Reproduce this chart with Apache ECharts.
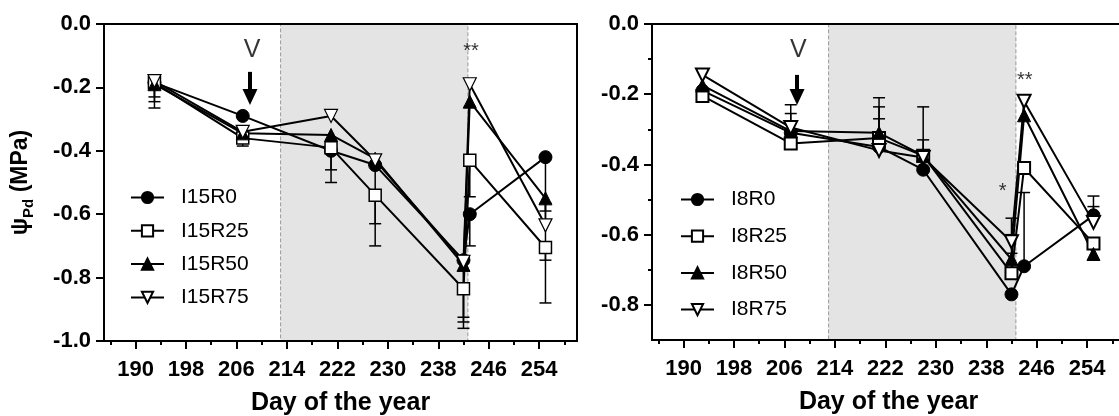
<!DOCTYPE html>
<html>
<head>
<meta charset="utf-8">
<script src="https://cdn.jsdelivr.net/npm/echarts@6/dist/echarts.min.js"></script>
<style>html,body{margin:0;padding:0;background:#fff}#c{width:1119px;height:416px}</style>
</head>
<body>
<div id="c"></div>
<script>
// ---- data ----
const daysLeft  = [193, 207, 221, 228, 242, 243, 255];
const daysRight = [193, 207, 221, 228, 242, 244, 255];

const namesLeft  = ['I15R0', 'I15R25', 'I15R50', 'I15R75'];
const namesRight = ['I8R0', 'I8R25', 'I8R50', 'I8R75'];

const I15R0  = [-0.185, -0.29,  -0.40,  -0.445, -0.745, -0.60,  -0.42];
const I15R25 = [-0.185, -0.36,  -0.39,  -0.54,  -0.835, -0.43,  -0.705];
const I15R50 = [-0.19,  -0.345, -0.35,  -0.425, -0.76,  -0.245, -0.55];
const I15R75 = [-0.18,  -0.34,  -0.29,  -0.43,  -0.75,  -0.19,  -0.635];

const I8R0  = [-0.19,  -0.31,  -0.35,  -0.415, -0.77, -0.69, -0.545];
const I8R25 = [-0.205, -0.34,  -0.325, -0.375, -0.71, -0.41, -0.625];
const I8R50 = [-0.175, -0.305, -0.31,  -0.375, -0.67, -0.26, -0.655];
const I8R75 = [-0.145, -0.295, -0.36,  -0.38,  -0.62, -0.22, -0.565];

// error bar end (cap) values, null = no visible bar
const errI15R0  = [-0.265, null,   -0.50, -0.63, -0.94,  -0.70,  -0.88];
const errI15R25 = [-0.245, -0.385, -0.46, -0.70, -0.96,  -0.545, -0.745];
const errI15R50 = [-0.23,  null,   null,  null,  -0.925, -0.26,  -0.59];
const errI15R75 = [null,   null,   null,  null,  null,   null,   -0.565];

const errI8R0  = [null, -0.23,  -0.21,  -0.33,  null,   -0.48, -0.49];
const errI8R25 = [null, null,   -0.236, -0.236, -0.653, null,  null];
const errI8R50 = [null, -0.255, -0.27,  null,   -0.60,  null,  null];
const errI8R75 = [null, null,   null,   null,   -0.553, null,  -0.52];

// shaded period (days)
const shadeStart = 213, shadeEnd = 242.7;

// axis ticks
const xMajor = [190, 198, 206, 214, 222, 230, 238, 246, 254];
const xMinor = [186, 194, 202, 210, 218, 226, 234, 242, 250, 258];
const yRightMajor = [0, -0.2, -0.4, -0.6, -0.8];
const yRightMinor = [-0.1, -0.3, -0.5, -0.7];

// annotations
const notesLeft  = [[208.5, -0.082, 'V'], [243.2, -0.07, '**']];
const notesRight = [[208.2, -0.074, 'V'], [244.1, -0.148, '**'], [240.6, -0.462, '*']];
const arrowLeft  = [208.15, -0.151, -0.230];
const arrowRight = [208.0, -0.145, -0.208];

// ---- chart ----
const FONT = 'Liberation Sans, Arial, sans-serif';
const downTri = 'path://M0,0 L10,0 L5,9 Z';

function xAxes(grid) {
  return [
    {
      gridIndex: grid, type: 'value', min: 185, max: 260, position: 'bottom', z: 5,
      axisLine: { show: true, onZero: false, lineStyle: { color: '#000', width: 2 } },
      axisTick: { show: true, customValues: xMajor, length: 8, lineStyle: { color: '#000', width: 2 } },
      axisLabel: { show: true, customValues: xMajor, margin: 18, color: '#000', fontSize: 22, fontWeight: 'bold', fontFamily: FONT },
      splitLine: { show: false },
      name: 'Day of the year', nameLocation: 'middle', nameGap: 50,
      nameTextStyle: { color: '#000', fontSize: 25, fontWeight: 'bold', fontFamily: FONT }
    },
    {
      gridIndex: grid, type: 'value', min: 185, max: 260, position: 'bottom', z: 5,
      axisLine: { show: false, onZero: false },
      axisTick: { show: true, customValues: xMinor, length: 4, lineStyle: { color: '#000', width: 2 } },
      axisLabel: { show: false }, splitLine: { show: false }
    }
  ];
}

function lineSeries(name, days, vals, symbol, open, xi, yi, size, bw) {
  return {
    name, type: 'line', xAxisIndex: xi, yAxisIndex: yi, z: 3,
    data: days.map((d, i) => [d, vals[i]]),
    symbol, symbolSize: size, showSymbol: true,
    lineStyle: { color: '#000', width: 2 },
    itemStyle: { color: open ? '#fff' : '#000', borderColor: '#000', borderWidth: bw },
    emphasis: { disabled: true }, animation: false
  };
}

function errSeries(days, vals, caps, xi, yi) {
  const data = [];
  days.forEach((d, i) => { if (caps[i] !== null) data.push([d, vals[i], caps[i]]); });
  return {
    type: 'custom', xAxisIndex: xi, yAxisIndex: yi, z: 2, silent: true, animation: false,
    encode: { x: 0, y: [1, 2] },
    data,
    renderItem: function (params, api) {
      const p0 = api.coord([api.value(0), api.value(1)]);
      const p1 = api.coord([api.value(0), api.value(2)]);
      const st = { stroke: '#000', lineWidth: 1.5 };
      return {
        type: 'group', children: [
          { type: 'line', shape: { x1: p0[0], y1: p0[1], x2: p1[0], y2: p1[1] }, style: st },
          { type: 'line', shape: { x1: p1[0] - 6, y1: p1[1], x2: p1[0] + 6, y2: p1[1] }, style: st }
        ]
      };
    }
  };
}

function noteSeries(notes, arrow, xi, yi) {
  return {
    type: 'scatter', xAxisIndex: xi, yAxisIndex: yi, z: 6, silent: true, animation: false,
    symbolSize: 0,
    data: notes.map(d => ({
      value: d,
      label: { fontSize: d[2] === 'V' ? 25 : 20, offset: d[2] === 'V' ? [0, 0] : [0, 5] }
    })),
    label: {
      show: true, position: 'inside', color: '#000', fontFamily: FONT,
      formatter: p => p.value[2]
    },
    markLine: {
      silent: true, animation: false,
      symbol: ['none', 'triangle'], symbolSize: [15, 16],
      lineStyle: { color: '#000', width: 4, type: 'solid' },
      itemStyle: { color: '#000' },
      label: { show: false },
      data: [[{ coord: [arrow[0], arrow[1]] }, { coord: [arrow[0], arrow[2]] }]]
    }
  };
}

function shadeSeries(xi, yi) {
  return {
    type: 'line', xAxisIndex: xi, yAxisIndex: yi, z: 1, data: [], silent: true,
    markArea: {
      silent: true,
      itemStyle: { color: '#e4e4e4', borderColor: '#9a9a9a', borderWidth: 1, borderType: 'dashed' },
      data: [[{ xAxis: shadeStart }, { xAxis: shadeEnd }]]
    }
  };
}

const legendBase = {
  orient: 'vertical', padding: 0, itemWidth: 33, itemHeight: 14,
  textStyle: { color: '#000', fontSize: 21, fontFamily: FONT, padding: [0, 0, 0, 12] },
  selectedMode: false
};

const chart = echarts.init(document.getElementById('c'), null, { renderer: 'canvas' });
const option = {
  animation: false,
  backgroundColor: '#fff',
  grid: [
    { left: 104, top: 24, width: 473, height: 317, show: true, borderColor: '#000', borderWidth: 2, backgroundColor: 'transparent', outerBoundsMode: 'none', containLabel: false, z: 4 },
    { left: 652, top: 24, width: 473, height: 316, show: true, borderColor: '#000', borderWidth: 2, backgroundColor: 'transparent', outerBoundsMode: 'none', containLabel: false, z: 4 }
  ],
  xAxis: [...xAxes(0), ...xAxes(1)],
  yAxis: [
    {
      gridIndex: 0, type: 'value', min: -1, max: 0, interval: 0.2, position: 'left', z: 5,
      axisLine: { show: true, onZero: false, lineStyle: { color: '#000', width: 2 } },
      axisTick: { show: true, length: 8, lineStyle: { color: '#000', width: 2 } },
      axisLabel: { margin: 13, color: '#000', fontSize: 22, fontWeight: 'bold', fontFamily: FONT, formatter: v => v.toFixed(1) },
      splitLine: { show: false },
      name: '{a|ψ}{s|Pd}{a| (MPa)}', nameLocation: 'middle', nameGap: 68, nameRotate: 90,
      nameTextStyle: {
        color: '#000', fontFamily: FONT, fontWeight: 'bold',
        rich: {
          a: { fontSize: 23, fontWeight: 'bold', fontFamily: FONT, color: '#000', lineHeight: 30, verticalAlign: 'middle' },
          s: { fontSize: 15, fontWeight: 'bold', fontFamily: FONT, color: '#000', lineHeight: 30, verticalAlign: 'bottom', padding: [10, 0, 0, 0] }
        }
      }
    },
    {
      gridIndex: 1, type: 'value', min: -0.9, max: 0, position: 'left', z: 5,
      axisLine: { show: true, onZero: false, lineStyle: { color: '#000', width: 2 } },
      axisTick: { show: true, customValues: yRightMajor, length: 8, lineStyle: { color: '#000', width: 2 } },
      axisLabel: { customValues: yRightMajor, margin: 13, color: '#000', fontSize: 22, fontWeight: 'bold', fontFamily: FONT, formatter: v => v.toFixed(1) },
      splitLine: { show: false }
    },
    {
      gridIndex: 1, type: 'value', min: -0.9, max: 0, position: 'left', z: 5,
      axisLine: { show: false, onZero: false },
      axisTick: { show: true, customValues: yRightMinor, length: 4, lineStyle: { color: '#000', width: 2 } },
      axisLabel: { show: false }, splitLine: { show: false }
    }
  ],
  legend: [
    Object.assign({}, legendBase, { data: namesLeft, left: 130, top: 187, itemGap: 12.3 }),
    Object.assign({}, legendBase, { data: namesRight, left: 680, top: 189, itemGap: 15.7 })
  ],
  series: [
    shadeSeries(0, 0),
    shadeSeries(2, 1),
    errSeries(daysLeft, I15R0, errI15R0, 0, 0),
    errSeries(daysLeft, I15R25, errI15R25, 0, 0),
    errSeries(daysLeft, I15R50, errI15R50, 0, 0),
    errSeries(daysLeft, I15R75, errI15R75, 0, 0),
    errSeries(daysRight, I8R0, errI8R0, 2, 1),
    errSeries(daysRight, I8R25, errI8R25, 2, 1),
    errSeries(daysRight, I8R50, errI8R50, 2, 1),
    errSeries(daysRight, I8R75, errI8R75, 2, 1),
    lineSeries(namesLeft[0], daysLeft, I15R0, 'circle', false, 0, 0, 13, 1),
    lineSeries(namesLeft[1], daysLeft, I15R25, 'rect', true, 0, 0, 12, 1.5),
    lineSeries(namesLeft[2], daysLeft, I15R50, 'triangle', false, 0, 0, 13, 1),
    lineSeries(namesLeft[3], daysLeft, I15R75, downTri, true, 0, 0, 13, 1.2),
    lineSeries(namesRight[0], daysRight, I8R0, 'circle', false, 2, 1, 13, 1),
    lineSeries(namesRight[1], daysRight, I8R25, 'rect', true, 2, 1, 12, 2),
    lineSeries(namesRight[2], daysRight, I8R50, 'triangle', false, 2, 1, 13, 1),
    lineSeries(namesRight[3], daysRight, I8R75, downTri, true, 2, 1, 13, 2),
    noteSeries(notesLeft, arrowLeft, 0, 0),
    noteSeries(notesRight, arrowRight, 2, 1)
  ]
};
chart.setOption(option);
</script>
</body>
</html>
